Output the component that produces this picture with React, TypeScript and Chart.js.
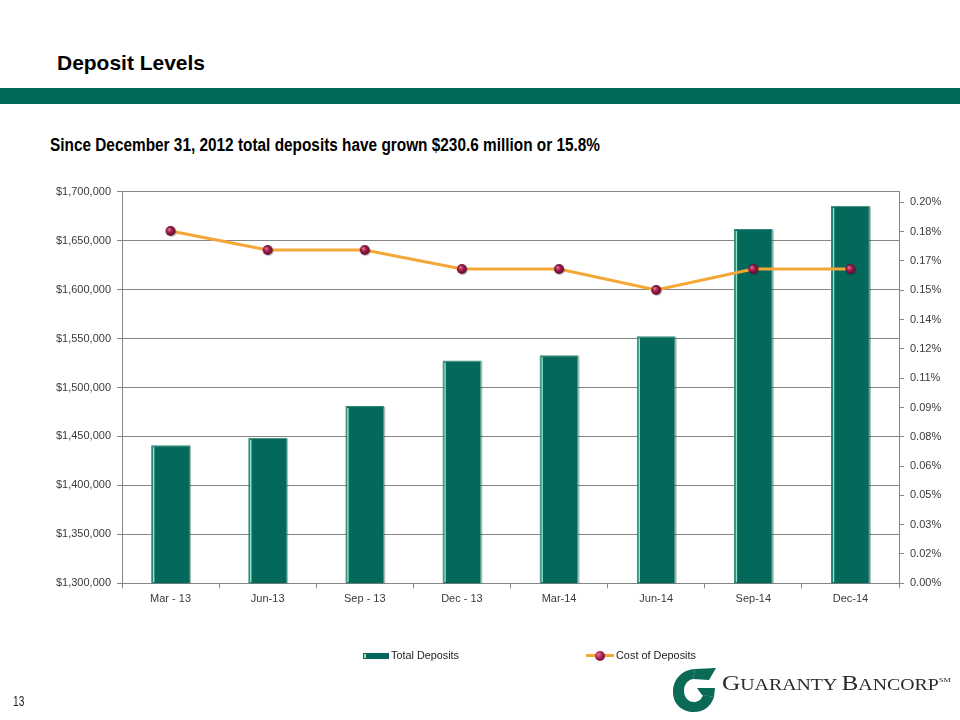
import React, { useEffect, useLayoutEffect, useRef } from "react";
import { Chart, registerables } from "chart.js";

Chart.register(...registerables);

const CATEGORIES = ["Mar - 13", "Jun-13", "Sep - 13", "Dec - 13", "Mar-14", "Jun-14", "Sep-14", "Dec-14"];
const TOTAL_DEPOSITS = [1441100, 1448600, 1481200, 1527600, 1533000, 1552300, 1661800, 1685700];
const COST_OF_DEPOSITS = [0.185, 0.175, 0.175, 0.165, 0.165, 0.154, 0.165, 0.165];
const RIGHT_TICK_LABELS = ["0.00%", "0.02%", "0.03%", "0.05%", "0.06%", "0.08%", "0.09%", "0.11%", "0.12%", "0.14%", "0.15%", "0.17%", "0.18%", "0.20%"];
const RIGHT_TICK_TOP = 0.2;
const LEFT_MIN = 1300000;
const LEFT_MAX = 1700000;
const LEFT_STEP = 50000;

const GREEN = "#04695A";
const ORANGE = "#F4A736";
const MARKER = "#A01C4C";
const GRID = "#868686";
const TICK_COLOR = "#3a3a3a";
const SANS = "'Liberation Sans', Arial, sans-serif";
const NARROW = "'Liberation Sans Narrow', 'Arial Narrow', 'Liberation Sans', Arial, sans-serif";
const SERIF = "'Liberation Serif', 'Times New Roman', serif";

function makeBall(r: number): HTMLCanvasElement {
  const size = r * 2 + 4;
  const c = document.createElement("canvas");
  c.width = size;
  c.height = size;
  const ctx = c.getContext("2d")!;
  const cx = size / 2;
  ctx.fillStyle = "rgba(0,0,0,0.18)";
  ctx.beginPath();
  ctx.arc(cx + 1, cx + 1.2, r, 0, Math.PI * 2);
  ctx.fill();
  const g = ctx.createRadialGradient(cx - r * 0.35, cx - r * 0.35, 0.5, cx, cx, r);
  g.addColorStop(0, "#e8708f");
  g.addColorStop(0.45, MARKER);
  g.addColorStop(1, "#5c0b2b");
  ctx.fillStyle = g;
  ctx.beginPath();
  ctx.arc(cx, cx, r, 0, Math.PI * 2);
  ctx.fill();
  return c;
}

const barHighlight = {
  id: "barHighlight",
  afterDatasetDraw(chart: any, args: any) {
    if (args.index !== 0) return;
    const ctx = chart.ctx;
    const meta = chart.getDatasetMeta(0);
    const bottom = chart.chartArea.bottom;
    ctx.save();
    meta.data.forEach((el: any) => {
      const x = el.x;
      const y = el.y;
      const width = el.width;
      const left = x - width / 2;
      ctx.strokeStyle = "#8fe3cc";
      ctx.lineWidth = 1.5;
      ctx.beginPath();
      ctx.moveTo(left + 2.5, y + 2);
      ctx.lineTo(left + 2.5, bottom - 1);
      ctx.stroke();
      ctx.strokeStyle = "rgba(0,40,30,0.35)";
      ctx.lineWidth = 1;
      ctx.beginPath();
      ctx.moveTo(left + width + 0.5, y + 1);
      ctx.lineTo(left + width + 0.5, bottom);
      ctx.stroke();
    });
    ctx.restore();
  },
};

function FitText(props: {
  x: number;
  top: number;
  width: number;
  fontSize: number;
  family: string;
  weight?: number | string;
  color?: string;
  children: React.ReactNode;
}) {
  const ref = useRef<HTMLSpanElement>(null);
  useLayoutEffect(() => {
    const fit = () => {
      const el = ref.current;
      if (!el) return;
      el.style.transform = "none";
      const w = el.getBoundingClientRect().width;
      if (w > 0) el.style.transform = `scaleX(${props.width / w})`;
    };
    fit();
    if ((document as any).fonts && (document as any).fonts.ready) {
      (document as any).fonts.ready.then(fit);
    }
  }, [props.width]);
  return (
    <span
      ref={ref}
      style={{
        position: "absolute",
        left: props.x,
        top: props.top,
        fontSize: props.fontSize,
        lineHeight: props.fontSize + "px",
        fontFamily: props.family,
        fontWeight: props.weight as any,
        color: props.color || "#000",
        whiteSpace: "nowrap",
        transformOrigin: "0 0",
        display: "inline-block",
      }}
    >
      {props.children}
    </span>
  );
}

function Logo() {
  return (
    <svg
      width={46}
      height={48}
      viewBox="0 0 46 48"
      style={{ position: "absolute", left: 671, top: 666 }}
    >
      <path
        d="M 24 3 C 10 4 2 14 2 26 C 2 38 11 46 23 46 C 33 46 40 40 43 31 L 32 29 C 30 34 27 36 23 36 C 17 36 13 31 13 25 C 13 18 17 14 22 13 Z"
        fill="#0A6A55"
      />
      <path d="M 24 3 L 45 2 L 38 14 L 22 13 Z" fill="#0A6A55" />
      <path d="M 26 22 L 44 22 L 43 31 L 31 29 Z" fill="#0A6A55" />
    </svg>
  );
}

export default function App() {
  const canvasRef = useRef<HTMLCanvasElement>(null);

  useEffect(() => {
    const canvas = canvasRef.current;
    if (!canvas) return;
    const ball = makeBall(5);
    const rightMax = RIGHT_TICK_TOP * (392 / 381.3);
    const rightStep = RIGHT_TICK_TOP / (RIGHT_TICK_LABELS.length - 1);
    const font = { family: SANS, size: 11 };
    const chart = new Chart(canvas, {
      type: "bar",
      data: {
        labels: CATEGORIES,
        datasets: [
          {
            type: "bar",
            label: "Total Deposits",
            data: TOTAL_DEPOSITS,
            backgroundColor: GREEN,
            borderColor: "#2e8a78",
            borderWidth: 1,
            yAxisID: "y",
            order: 2,
            barPercentage: 0.4,
            categoryPercentage: 1,
          } as any,
          {
            type: "line",
            label: "Cost of Deposits",
            data: COST_OF_DEPOSITS,
            borderColor: ORANGE,
            borderWidth: 3,
            pointStyle: ball as any,
            pointRadius: 5,
            tension: 0,
            yAxisID: "y1",
            order: 1,
          } as any,
        ],
      },
      options: {
        responsive: false,
        animation: false,
        devicePixelRatio: 1,
        layout: { padding: { left: 0, right: 0, top: 191.7, bottom: 96.7 } },
        plugins: { legend: { display: false }, tooltip: { enabled: false } },
        scales: {
          x: {
            grid: { offset: true, drawOnChartArea: false, drawTicks: true, tickLength: 5, color: GRID },
            border: { color: GRID },
            ticks: { font, color: TICK_COLOR, padding: 4, maxRotation: 0, autoSkip: false },
            afterFit: (s: any) => {
              s.height = 40;
            },
          },
          y: {
            position: "left",
            min: LEFT_MIN,
            max: LEFT_MAX,
            grid: { color: GRID, tickLength: 5 },
            border: { color: GRID },
            ticks: {
              stepSize: LEFT_STEP,
              font,
              color: TICK_COLOR,
              padding: 6,
              callback: (v: any) => "$" + Number(v).toLocaleString("en-US"),
            },
            afterFit: (s: any) => {
              s.width = 122;
            },
          },
          y1: {
            position: "right",
            min: 0,
            max: rightMax,
            grid: { drawOnChartArea: false, tickLength: 5, color: GRID },
            border: { color: GRID },
            afterBuildTicks: (s: any) => {
              s.ticks = RIGHT_TICK_LABELS.map((_, i) => ({ value: i * rightStep }));
            },
            ticks: {
              font,
              color: TICK_COLOR,
              padding: 6,
              callback: (_v: any, i: number) => RIGHT_TICK_LABELS[i],
            },
            afterFit: (s: any) => {
              s.width = 61;
            },
          },
        },
      } as any,
      plugins: [barHighlight],
    });
    return () => chart.destroy();
  }, []);

  return (
    <div
      style={{
        position: "absolute",
        left: 0,
        top: 0,
        width: 960,
        height: 720,
        overflow: "hidden",
        background: "#fff",
      }}
    >
      <FitText x={57} top={51.5} width={148} fontSize={21} family={NARROW} weight="bold">
        Deposit Levels
      </FitText>
      <div
        style={{ position: "absolute", left: 0, top: 88, width: 960, height: 15.5, background: "#006A56" }}
      />
      <FitText x={50} top={135.9} width={550} fontSize={18.7} family={NARROW} weight="bold">
        Since December 31, 2012 total deposits have grown $230.6 million or 15.8%
      </FitText>
      <canvas
        ref={canvasRef}
        width={960}
        height={720}
        style={{ position: "absolute", left: 0, top: 0, width: 960, height: 720 }}
      />
      {/* Legend */}
      <div style={{ position: "absolute", left: 363, top: 652.5, width: 26, height: 6, background: GREEN }}>
        <div style={{ position: "absolute", left: 1, top: 1, width: 1.5, height: 4, background: "#8fe3cc" }} />
      </div>
      <FitText x={391} top={649.5} width={68} fontSize={11} family={SANS} color="#222">
        Total Deposits
      </FitText>
      <div style={{ position: "absolute", left: 586, top: 654, width: 28, height: 3, background: ORANGE }} />
      <div
        style={{
          position: "absolute",
          left: 595,
          top: 650.5,
          width: 10,
          height: 10,
          borderRadius: "50%",
          background: "radial-gradient(circle at 35% 35%, #e8708f 0%, #A01C4C 45%, #5c0b2b 100%)",
        }}
      />
      <FitText x={616} top={649.5} width={80} fontSize={11} family={SANS} color="#222">
        Cost of Deposits
      </FitText>
      {/* Page number */}
      <FitText x={12.7} top={694} width={11.3} fontSize={14} family={NARROW} color="#222">
        13
      </FitText>
      {/* Logo */}
      <Logo />
      <FitText x={722} top={673.4} width={229} fontSize={21} family={SERIF} color="#2b2b2b">
        <span>G</span>
        <span style={{ fontSize: 16.5 }}>UARANTY </span>
        <span>B</span>
        <span style={{ fontSize: 16.5 }}>ANCORP</span>
        <span style={{ fontSize: 7, position: "relative", top: -8 }}>SM</span>
      </FitText>
    </div>
  );
}
